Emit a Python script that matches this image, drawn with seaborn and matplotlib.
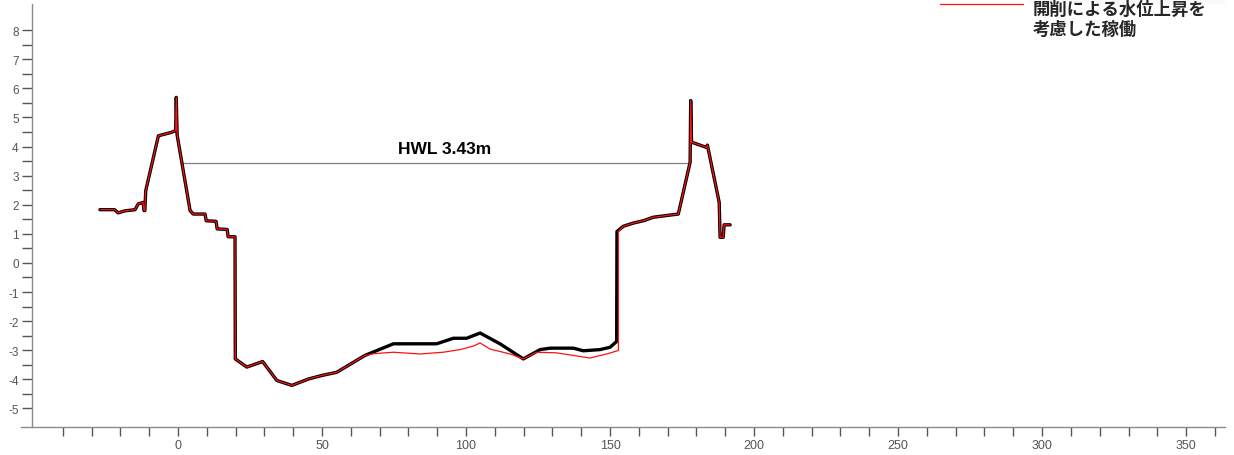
import numpy as np
import pandas as pd
import matplotlib
matplotlib.use("Agg")
import matplotlib.pyplot as plt
from matplotlib.lines import Line2D
from matplotlib.patches import Rectangle
import seaborn as sns

# Cross-section profile (distance m, elevation m)
# left bank, shared by both profiles
left_x = [-27.1, -22.0, -20.8, -18.4, -14.9, -13.8, -12.1, -11.8, -11.5, -11.2,
          -6.8, -2.2, -0.8, -0.6, -0.3, 4.2, 5.3, 9.4, 9.8, 13.2, 13.6, 17.1,
          17.4, 19.8, 19.9, 23.9, 29.4, 34.3, 39.5, 45.3, 49.9, 55.1, 64.9]
left_y = [1.83, 1.83, 1.72, 1.79, 1.83, 2.03, 2.08, 1.80, 1.80, 2.48,
          4.37, 4.49, 4.55, 5.69, 4.40, 1.80, 1.68, 1.68, 1.45, 1.43, 1.17, 1.15,
          0.90, 0.90, -3.30, -3.58, -3.39, -4.04, -4.21, -3.99, -3.87, -3.76, -3.18]

# channel bed, current operation
bed_x = [74.8, 89.8, 95.6, 100.2, 104.9, 111.8, 119.9, 125.7, 129.2, 137.3,
         140.7, 146.5, 150.0, 152.3, 152.4]
bed_y = [-2.78, -2.78, -2.59, -2.59, -2.41, -2.78, -3.30, -2.98, -2.93, -2.93,
         -3.02, -2.98, -2.90, -2.70, 1.08]

# channel bed, operation considering water level rise from excavation
bed_rise_x = [68.0, 74.8, 84.0, 92.1, 97.9, 102.5, 104.9, 108.3, 115.3, 119.9,
              124.5, 131.4, 137.3, 143.0, 148.8, 152.9, 152.9]
bed_rise_y = [-3.12, -3.07, -3.13, -3.07, -2.98, -2.86, -2.75, -2.96, -3.13, -3.30,
              -3.07, -3.09, -3.18, -3.27, -3.13, -3.01, 1.08]

# right bank, shared by both profiles
right_x = [154.6, 158.1, 161.6, 165.0, 169.7, 173.7, 177.8, 178.0, 178.3,
           183.5, 183.8, 187.9, 188.2, 189.3, 189.6, 191.7]
right_y = [1.26, 1.37, 1.45, 1.57, 1.63, 1.68, 3.46, 5.58, 4.15,
           3.97, 4.05, 2.08, 0.88, 0.88, 1.31, 1.31]

hwl = 3.43
hwl_label = "HWL 3.43m"
legend_label = "開削による水位上昇を\n考慮した稼働"

x_major = [0, 50, 100, 150, 200, 250, 300, 350]
y_major = list(range(-5, 9))

base = pd.DataFrame({"x": left_x + bed_x + right_x,
                     "y": left_y + bed_y + right_y})
rise = pd.DataFrame({"x": left_x + bed_rise_x + right_x,
                     "y": left_y + bed_rise_y + right_y})

sns.set_style("white")
plt.rcParams["font.family"] = ["Liberation Sans", "DejaVu Sans"]
plt.rcParams["axes.unicode_minus"] = False

W, H = 1234, 456
fig = plt.figure(figsize=(W / 100, H / 100), dpi=100)
ax = fig.add_axes([21 / W, 1 - 428 / H, (1225 - 21) / W, (428 - 5) / H])

# HWL line between the bank crossings around the channel centre
xs = base["x"].to_numpy()
ys = base["y"].to_numpy() - hwl
cross = []
for i in range(len(xs) - 1):
    if ys[i] * ys[i + 1] < 0:
        t = ys[i] / (ys[i] - ys[i + 1])
        cross.append(xs[i] + t * (xs[i + 1] - xs[i]))
cross = np.array(cross)
centre = 90
x0 = cross[cross < centre].max()
x1 = cross[cross > centre].min()
ax.plot([x0, x1], [hwl, hwl], color="#808080", lw=0.9, zorder=1)
ax.text(92.5, hwl + 0.5, hwl_label, ha="center", va="center",
        fontsize=12.5, fontweight="bold", color="black")

sns.lineplot(data=base, x="x", y="y", sort=False, estimator=None,
             color="black", lw=2.4, ax=ax, zorder=2)
sns.lineplot(data=rise, x="x", y="y", sort=False, estimator=None,
             color="#ff1010", lw=0.9, ax=ax, zorder=3)

ax.set_xlim(-54.5, 363.5)
ax.set_ylim(-5.64, 8.9)
ax.set_xlabel("")
ax.set_ylabel("")

ax.set_xticks(x_major)
ax.set_xticks([v for v in range(-40, 361, 10) if v not in x_major], minor=True)
ax.set_yticks(y_major)
ax.set_yticks([v + 0.5 for v in range(-5, 8)], minor=True)
ax.set_xticklabels([str(v) for v in x_major])
ax.set_yticklabels([str(v) for v in y_major])

for s in ["top", "right"]:
    ax.spines[s].set_visible(False)
ax.spines["left"].set_position(("data", -50.7))
for s in ["left", "bottom"]:
    ax.spines[s].set_color("#8a8a8a")
    ax.spines[s].set_linewidth(1.0)

ax.tick_params(axis="x", which="both", bottom=True, direction="out",
               length=6.5, width=1.0, color="#555555", labelsize=9,
               labelcolor="#555555", pad=2)
ax.tick_params(axis="y", which="both", left=True, direction="out",
               length=7.5, width=1.0, color="#555555", labelsize=8.5,
               labelcolor="#555555", pad=2)
ax.grid(False)

# legend block in the upper right corner
fig.add_artist(Rectangle((1028 / W, 1 - 78 / H), (1225 - 1028) / W, 78 / H,
                         transform=fig.transFigure, facecolor="#f9f9f9",
                         edgecolor="none", zorder=0))
fig.add_artist(Line2D([940 / W, 1023 / W], [1 - 5 / H, 1 - 5 / H],
                      transform=fig.transFigure, color="#ff1010", lw=0.9))
fig.text(1033 / W, 1 - 0.5 / H, legend_label, ha="left", va="top",
         fontsize=12.5, fontweight="bold", linespacing=1.2,
         family=["Noto Sans CJK JP", "DejaVu Sans"])

fig.savefig("out.png", dpi=100)
